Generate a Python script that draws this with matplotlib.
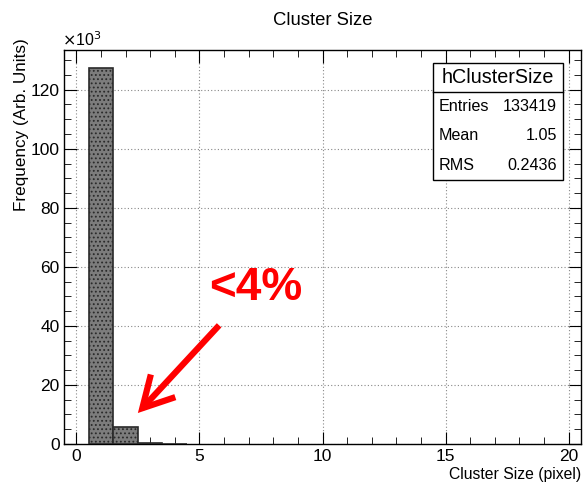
import matplotlib
matplotlib.use("Agg")
import matplotlib.pyplot as plt
from matplotlib.ticker import MultipleLocator
import numpy as np

plt.rcParams['font.family'] = ['Liberation Sans', 'DejaVu Sans']
plt.rcParams['hatch.color'] = '#a8a8a8'
plt.rcParams['hatch.linewidth'] = 0.8

# Histogram contents (counts per cluster size bin)
cluster_sizes = [1, 2, 3, 4]
counts = [127350, 5750, 300, 19]
stat_labels = ["Entries", "Mean", "RMS"]
stat_values = ["133419", "1.05", "0.2436"]
hist_name = "hClusterSize"
annotation = "<4%"

fig = plt.figure(figsize=(5.83, 4.82), dpi=100)
ax = fig.add_axes([0.1098, 0.0788, 0.8868, 0.8172])

scaled = np.array(counts) / 1e3
ax.bar(cluster_sizes, scaled, width=1.0, align='center',
       facecolor='#7c7c7c', edgecolor='#2a2a2a', linewidth=1.2,
       hatch='....', zorder=3)

ax.set_xlim(-0.5, 20.5)
ax.set_ylim(0, 133.4)
ax.xaxis.set_major_locator(MultipleLocator(5))
ax.xaxis.set_minor_locator(MultipleLocator(1))
ax.yaxis.set_major_locator(MultipleLocator(20))
ax.yaxis.set_minor_locator(MultipleLocator(5))
ax.tick_params(which='both', direction='in', top=True, right=True, labelsize=12.5)
ax.tick_params(axis='x', pad=3.5)
ax.tick_params(axis='y', pad=3)
ax.tick_params(which='major', length=9)
ax.tick_params(which='minor', length=5)
ax.grid(which='major', linestyle=(0, (1, 2)), color='#888888', linewidth=0.8, zorder=0)
for s in ax.spines.values():
    s.set_linewidth(1.0)

ax.set_title("Cluster Size", fontsize=13.3, pad=18)
ax.set_ylabel("Frequency (Arb. Units)", fontsize=12.3)
ax.yaxis.set_label_coords(-0.083, 1.03)
ax.yaxis.label.set_horizontalalignment('right')
ax.yaxis.label.set_verticalalignment('center')
ax.set_xlabel("Cluster Size (pixel)", fontsize=11.3)
ax.xaxis.set_label_coords(1.001, -0.078)
ax.xaxis.label.set_horizontalalignment('right')
ax.xaxis.label.set_verticalalignment('center')
ax.text(-0.004, 1.003, r"$\times$10$^{3}$", transform=ax.transAxes,
        fontsize=11.5, ha='left', va='bottom')

# Statistics box
bx0, bx1 = 433 / 583, 563 / 583
by1, by0 = 1 - 63 / 482, 1 - 180 / 482
bsep = 1 - 92 / 482
fig.patches.append(plt.Rectangle((bx0, by0), bx1 - bx0, by1 - by0,
                                 transform=fig.transFigure, facecolor='white',
                                 edgecolor='black', linewidth=1.0, zorder=5))
fig.add_artist(plt.Line2D([bx0, bx1], [bsep, bsep], transform=fig.transFigure,
                          color='black', linewidth=1.0, zorder=6))
fig.text((bx0 + bx1) / 2, (by1 + bsep) / 2, hist_name, ha='center', va='center',
         fontsize=14.2, zorder=7)
row_h = (bsep - by0) / 3
for i, (lab, val) in enumerate(zip(stat_labels, stat_values)):
    yy = bsep - row_h * (i + 0.5)
    fig.text(bx0 + 0.010, yy, lab, ha='left', va='center', fontsize=11.6, zorder=7)
    fig.text(bx1 - 0.010, yy, val, ha='right', va='center', fontsize=11.6, zorder=7)

# Red annotation arrow
ax.annotate("", xy=(2.5, 10.5), xytext=(5.8, 40.2),
            arrowprops=dict(arrowstyle='->, head_length=1.1, head_width=0.6',
                            color='#ff0000', lw=4.5, mutation_scale=20,
                            shrinkA=0, shrinkB=0, capstyle='butt',
                            joinstyle='miter'),
            zorder=8)
ax.text(5.4, 53, annotation, color='#ff0000', fontsize=33, fontweight='bold',
        ha='left', va='center', zorder=8)

fig.savefig("out.png", dpi=100)
